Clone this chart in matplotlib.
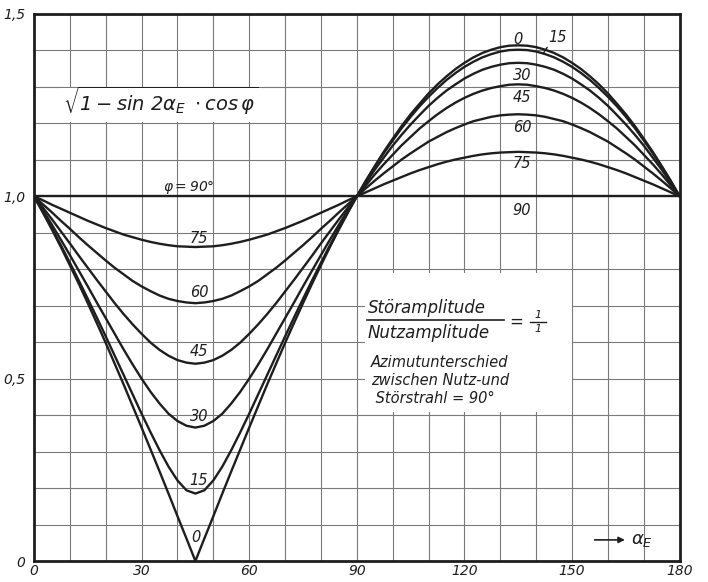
import matplotlib
matplotlib.use('Agg')
import matplotlib.pyplot as plt
from matplotlib.patches import Rectangle

plt.rcParams['font.family'] = ['Liberation Sans Narrow', 'DejaVu Sans']
plt.rcParams['font.style'] = 'italic'
plt.rcParams['mathtext.fontset'] = 'dejavusans'
plt.rcParams['mathtext.default'] = 'it'

# angle alpha_E in degrees, read every 2.5 degrees
alpha = [i * 2.5 for i in range(73)]

# values, one list per phi
y_phi0 = [1.000, 0.955, 0.909, 0.861, 0.811, 0.760, 0.707, 0.653, 0.598, 0.541,
          0.484, 0.425, 0.366, 0.306, 0.246, 0.185, 0.123, 0.062, 0.000,
          0.062, 0.123, 0.185, 0.246, 0.306, 0.366, 0.425, 0.484, 0.541,
          0.598, 0.653, 0.707, 0.760, 0.811, 0.861, 0.909, 0.955, 1.000,
          1.043, 1.083, 1.122, 1.158, 1.193, 1.225, 1.254, 1.282, 1.307,
          1.329, 1.349, 1.366, 1.381, 1.393, 1.402, 1.409, 1.413, 1.414,
          1.413, 1.409, 1.402, 1.393, 1.381, 1.366, 1.349, 1.329, 1.307,
          1.282, 1.254, 1.225, 1.193, 1.158, 1.122, 1.083, 1.043, 1.000]
y_phi15 = [1.000, 0.957, 0.912, 0.866, 0.818, 0.769, 0.719, 0.668, 0.616, 0.563,
           0.510, 0.457, 0.404, 0.353, 0.304, 0.259, 0.221, 0.194, 0.185,
           0.194, 0.221, 0.259, 0.304, 0.353, 0.404, 0.457, 0.510, 0.563,
           0.616, 0.668, 0.719, 0.769, 0.818, 0.866, 0.912, 0.957, 1.000,
           1.041, 1.081, 1.118, 1.153, 1.187, 1.218, 1.247, 1.273, 1.297,
           1.319, 1.338, 1.355, 1.369, 1.381, 1.390, 1.397, 1.401, 1.402,
           1.401, 1.397, 1.390, 1.381, 1.369, 1.355, 1.338, 1.319, 1.297,
           1.273, 1.247, 1.218, 1.187, 1.153, 1.118, 1.081, 1.041, 1.000]
y_phi30 = [1.000, 0.962, 0.922, 0.881, 0.839, 0.796, 0.753, 0.709, 0.666, 0.623,
           0.580, 0.539, 0.500, 0.464, 0.432, 0.404, 0.384, 0.371, 0.366,
           0.371, 0.384, 0.404, 0.432, 0.464, 0.500, 0.539, 0.580, 0.623,
           0.666, 0.709, 0.753, 0.796, 0.839, 0.881, 0.922, 0.962, 1.000,
           1.037, 1.073, 1.106, 1.139, 1.169, 1.197, 1.223, 1.248, 1.270,
           1.290, 1.307, 1.323, 1.336, 1.347, 1.355, 1.361, 1.365, 1.366,
           1.365, 1.361, 1.355, 1.347, 1.336, 1.323, 1.307, 1.290, 1.270,
           1.248, 1.223, 1.197, 1.169, 1.139, 1.106, 1.073, 1.037, 1.000]
y_phi45 = [1.000, 0.969, 0.937, 0.904, 0.871, 0.837, 0.804, 0.771, 0.739, 0.707,
           0.677, 0.649, 0.623, 0.599, 0.579, 0.563, 0.551, 0.544, 0.541,
           0.544, 0.551, 0.563, 0.579, 0.599, 0.623, 0.649, 0.677, 0.707,
           0.739, 0.771, 0.804, 0.837, 0.871, 0.904, 0.937, 0.969, 1.000,
           1.030, 1.060, 1.088, 1.114, 1.140, 1.163, 1.186, 1.206, 1.225,
           1.242, 1.257, 1.270, 1.281, 1.290, 1.297, 1.302, 1.306, 1.307,
           1.306, 1.302, 1.297, 1.290, 1.281, 1.270, 1.257, 1.242, 1.225,
           1.206, 1.186, 1.163, 1.140, 1.114, 1.088, 1.060, 1.030, 1.000]
y_phi60 = [1.000, 0.978, 0.956, 0.933, 0.911, 0.888, 0.866, 0.845, 0.824, 0.804,
           0.786, 0.768, 0.753, 0.740, 0.728, 0.719, 0.713, 0.709, 0.707,
           0.709, 0.713, 0.719, 0.728, 0.740, 0.753, 0.768, 0.786, 0.804,
           0.824, 0.845, 0.866, 0.888, 0.911, 0.933, 0.956, 0.978, 1.000,
           1.022, 1.043, 1.063, 1.082, 1.101, 1.118, 1.134, 1.150, 1.163,
           1.176, 1.187, 1.197, 1.206, 1.212, 1.218, 1.222, 1.224, 1.225,
           1.224, 1.222, 1.218, 1.212, 1.206, 1.197, 1.187, 1.176, 1.163,
           1.150, 1.134, 1.118, 1.101, 1.082, 1.063, 1.043, 1.022, 1.000]
y_phi75 = [1.000, 0.989, 0.977, 0.966, 0.955, 0.944, 0.933, 0.923, 0.913, 0.904,
           0.895, 0.888, 0.881, 0.875, 0.870, 0.866, 0.863, 0.862, 0.861,
           0.862, 0.863, 0.866, 0.870, 0.875, 0.881, 0.888, 0.895, 0.904,
           0.913, 0.923, 0.933, 0.944, 0.955, 0.966, 0.977, 0.989, 1.000,
           1.011, 1.022, 1.033, 1.043, 1.053, 1.063, 1.072, 1.080, 1.088,
           1.095, 1.101, 1.106, 1.111, 1.115, 1.118, 1.120, 1.121, 1.122,
           1.121, 1.120, 1.118, 1.115, 1.111, 1.106, 1.101, 1.095, 1.088,
           1.080, 1.072, 1.063, 1.053, 1.043, 1.033, 1.022, 1.011, 1.000]
y_phi90 = [1.0] * len(alpha)

curves = [y_phi0, y_phi15, y_phi30, y_phi45, y_phi60, y_phi75, y_phi90]

xticks = [0, 30, 60, 90, 120, 150, 180]
yticks = [0, 0.5, 1.0, 1.5]
ytick_labels = ['0', '0,5', '1,0', '1,5']

ink = '#1e1e1e'

fig = plt.figure(figsize=(7.08, 5.82), dpi=100)
ax = fig.add_axes([0.048, 0.036, 0.912, 0.940])

for ys in curves:
    ax.plot(alpha, ys, color=ink, lw=1.7, zorder=3, solid_capstyle='round')

ax.set_xlim(0, 180)
ax.set_ylim(0, 1.5)
ax.set_xticks(xticks)
ax.set_xticklabels([str(v) for v in xticks])
ax.set_yticks(yticks)
ax.set_yticklabels(ytick_labels)
ax.set_xticks(range(0, 181, 10), minor=True)
ax.set_yticks([i / 10 for i in range(16)], minor=True)
ax.grid(True, which='both', color='#7a7a7a', lw=0.8)
ax.tick_params(which='both', length=0, labelsize=10, colors=ink)
ax.tick_params(axis='x', pad=2)
ax.tick_params(axis='y', pad=6)
for sp in ax.spines.values():
    sp.set_linewidth(2)
    sp.set_color(ink)

lab = dict(color=ink, fontsize=10.5, ha='center', va='center', zorder=4)
# labels on the maxima side
ax.text(135, 1.43, '0', **lab)
ax.text(146, 1.435, '15', **lab)
ax.annotate('', xy=(141.5, 1.385), xytext=(143.5, 1.415),
            arrowprops=dict(arrowstyle='-', color=ink, lw=1))
ax.text(136, 1.33, '30', **lab)
ax.text(136, 1.27, '45', **lab)
ax.text(136, 1.19, '60', **lab)
ax.text(136, 1.09, '75', **lab)
ax.text(136, 0.96, '90', **lab)
# labels on the minima side
ax.text(43, 1.025, r'$\varphi = 90\degree$', color=ink, fontsize=10,
        ha='center', va='center', zorder=4)
ax.text(46, 0.885, '75', **lab)
ax.text(46, 0.735, '60', **lab)
ax.text(46, 0.575, '45', **lab)
ax.text(46, 0.395, '30', **lab)
ax.text(46, 0.22, '15', **lab)
ax.text(45, 0.065, '0', **lab)

# formula with a white patch behind it
ax.add_patch(Rectangle((7.2, 1.203), 56.3, 0.094, facecolor='white',
                       edgecolor='none', zorder=2))
ax.text(8, 1.262, r'$\sqrt{1-sin\ 2\alpha_E\ \cdot cos\,\varphi}$', color=ink,
        fontsize=14, ha='left', va='center', zorder=4)

# ratio box
ax.add_patch(Rectangle((92.2, 0.41), 57.8, 0.38, facecolor='white',
                       edgecolor='none', zorder=2))
ax.text(93, 0.695, 'Störamplitude', color=ink, fontsize=12, ha='left',
        va='center', zorder=4)
ax.plot([92.8, 131], [0.661, 0.661], color=ink, lw=1.2, zorder=4)
ax.text(93, 0.625, 'Nutzamplitude', color=ink, fontsize=12, ha='left',
        va='center', zorder=4)
ax.text(134.5, 0.657, '=', color=ink, fontsize=12, ha='center',
        va='center', zorder=4)
ax.text(140.5, 0.675, '1', color=ink, fontsize=8, ha='center', va='center', zorder=4)
ax.plot([138.3, 142.7], [0.656, 0.656], color=ink, lw=1, zorder=4)
ax.text(140.5, 0.635, '1', color=ink, fontsize=8, ha='center', va='center', zorder=4)
ax.text(94, 0.494, 'Azimutunterschied\nzwischen Nutz-und\n Störstrahl = 90°',
        color=ink, fontsize=10.5, ha='left', va='center', linespacing=1.25,
        zorder=4)

# axis name
ax.annotate('', xy=(165.5, 0.058), xytext=(155.5, 0.058),
            arrowprops=dict(arrowstyle='-|>', color=ink, lw=1.2,
                            mutation_scale=9))
ax.text(166.5, 0.058, r'$\alpha_E$', color=ink, fontsize=13, ha='left',
        va='center', zorder=4)

fig.savefig('out.png', dpi=100)
